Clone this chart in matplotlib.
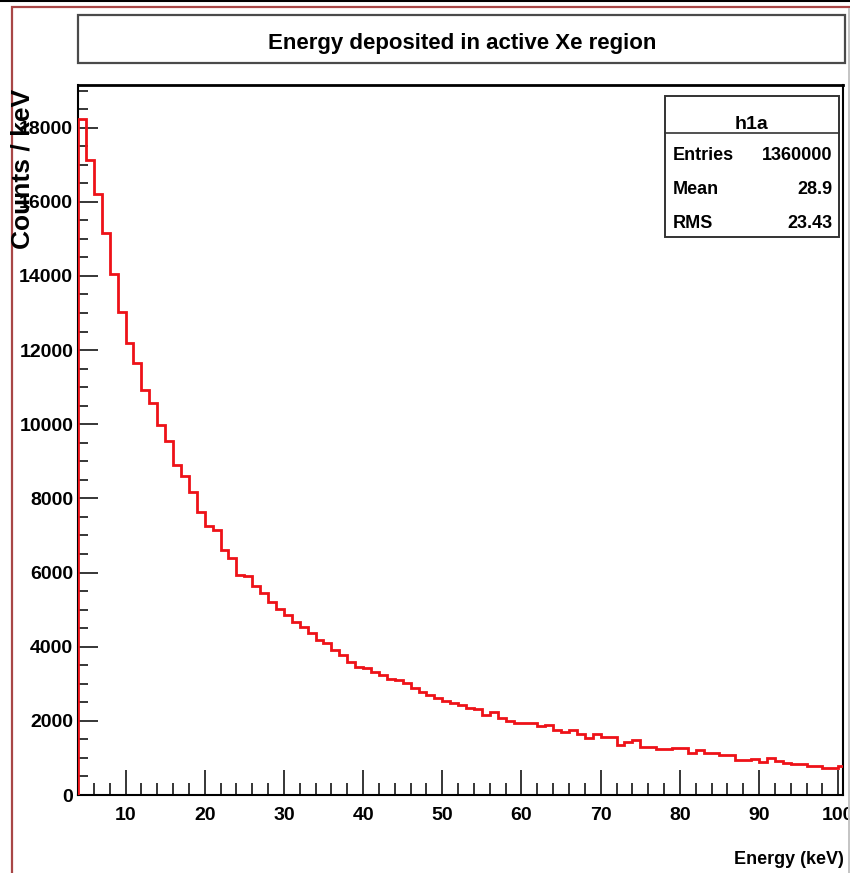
import numpy as np
import matplotlib
matplotlib.use("Agg")
import matplotlib.pyplot as plt
from matplotlib.patches import Rectangle
from matplotlib.lines import Line2D
from matplotlib.ticker import MultipleLocator

plt.rcParams["font.family"] = ["Liberation Sans Narrow", "Liberation Sans", "DejaVu Sans"]
plt.rcParams["font.weight"] = "bold"

# histogram h1a : 1 keV bins starting at 4 keV
bin_lo = 4
counts = [18240, 17120, 16200, 15160, 14040, 13020, 12200, 11650, 10920, 10570,
          9970, 9550, 8890, 8600, 8180, 7640, 7250, 7150, 6600, 6400,
          5930, 5900, 5630, 5440, 5210, 5030, 4850, 4670, 4540, 4370,
          4180, 4090, 3910, 3770, 3590, 3440, 3420, 3320, 3230, 3120,
          3100, 3010, 2880, 2780, 2700, 2610, 2540, 2470, 2440, 2340,
          2310, 2160, 2250, 2070, 2000, 1930, 1930, 1930, 1870, 1900,
          1750, 1710, 1750, 1640, 1530, 1640, 1560, 1560, 1350, 1440,
          1480, 1290, 1290, 1230, 1230, 1260, 1260, 1120, 1210, 1120,
          1120, 1080, 1080, 940, 940, 980, 880, 990, 920, 850,
          830, 830, 790, 790, 730, 720, 780]

title = "Energy deposited in active Xe region"
hist_name = "h1a"
stat_names = ["Entries", "Mean", "RMS"]
stat_values = ["1360000", "28.9", "23.43"]
xlabel = "Energy (keV)"
ylabel = "Counts / keV"

W, H = 850, 873
def fx(x):
    return x / W
def fy(y):
    return 1 - y / H

fig = plt.figure(figsize=(W / 100, H / 100), dpi=100)
fig.patch.set_facecolor("white")

# outer canvas border
fig.add_artist(Line2D([0, 1], [fy(0.5), fy(0.5)], color="black", lw=1.5, transform=fig.transFigure))
fig.add_artist(Rectangle((fx(12), -0.05), 1.0, fy(7.5) + 0.05, transform=fig.transFigure,
                         fill=False, ec="#a84646", lw=1.6))
fig.add_artist(Line2D([fx(848.5), fx(848.5)], [0, fy(9)], color="#c4c4c4", lw=1.4, transform=fig.transFigure))

# title box
fig.add_artist(Rectangle((fx(78), fy(63)), (845 - 78) / W, (63 - 15) / H, transform=fig.transFigure,
                         fill=True, fc="white", ec="#4a4a4a", lw=1.6))
fig.text(fx(462), fy(49), title, ha="center", va="baseline", fontsize=16)

ax = fig.add_axes([fx(78), fy(795), (843 - 78) / W, (795 - 85) / H])
edges = np.arange(bin_lo, bin_lo + len(counts) + 1)
ax.stairs(counts, edges, color="#ee1218", lw=2.0, zorder=3)

ax.set_xlim(4, 100.6)
ax.set_ylim(0, 19150)
ax.xaxis.set_major_locator(MultipleLocator(10))
ax.xaxis.set_minor_locator(MultipleLocator(2))
ax.yaxis.set_major_locator(MultipleLocator(2000))
ax.yaxis.set_minor_locator(MultipleLocator(500))
for s in ax.spines.values():
    s.set_linewidth(1.5)
    s.set_color("black")
ax.spines["top"].set_linewidth(2.0)

ax.tick_params(axis="y", which="major", direction="in", length=14.4, width=1.1, pad=3.5, labelsize=14)
ax.tick_params(axis="y", which="minor", direction="in", length=7.2, width=1.1)
ax.tick_params(axis="x", which="major", direction="in", length=18, width=1.1, pad=8.5, labelsize=14)
ax.tick_params(axis="x", which="minor", direction="in", length=8.6, width=1.1)

fig.text(fx(844), fy(864), xlabel, ha="right", va="baseline", fontsize=13)
fig.text(fx(23), fy(89), ylabel, ha="center", va="top", rotation=90, fontsize=19,
         family=["Liberation Sans", "DejaVu Sans"], zorder=5)

# stats box
bx0, bx1, by0, by1 = 665, 839, 96, 237
fig.add_artist(Rectangle((fx(bx0), fy(by1)), (bx1 - bx0) / W, (by1 - by0) / H, transform=fig.transFigure,
                         fill=True, fc="white", ec="#333333", lw=1.4, zorder=4))
fig.add_artist(Line2D([fx(bx0), fx(bx1)], [fy(132.5), fy(132.5)], color="#333333", lw=1.2,
                      transform=fig.transFigure, zorder=5))
fig.text(fx((bx0 + bx1) / 2), fy(129), hist_name, ha="center", va="baseline", fontsize=14, zorder=6)
row_y = [160, 194, 228]
for name, val, yy in zip(stat_names, stat_values, row_y):
    fig.text(fx(673), fy(yy), name, ha="left", va="baseline", fontsize=13, zorder=6)
    fig.text(fx(832), fy(yy), val, ha="right", va="baseline", fontsize=13, zorder=6)

fig.savefig("out.png", dpi=100)
